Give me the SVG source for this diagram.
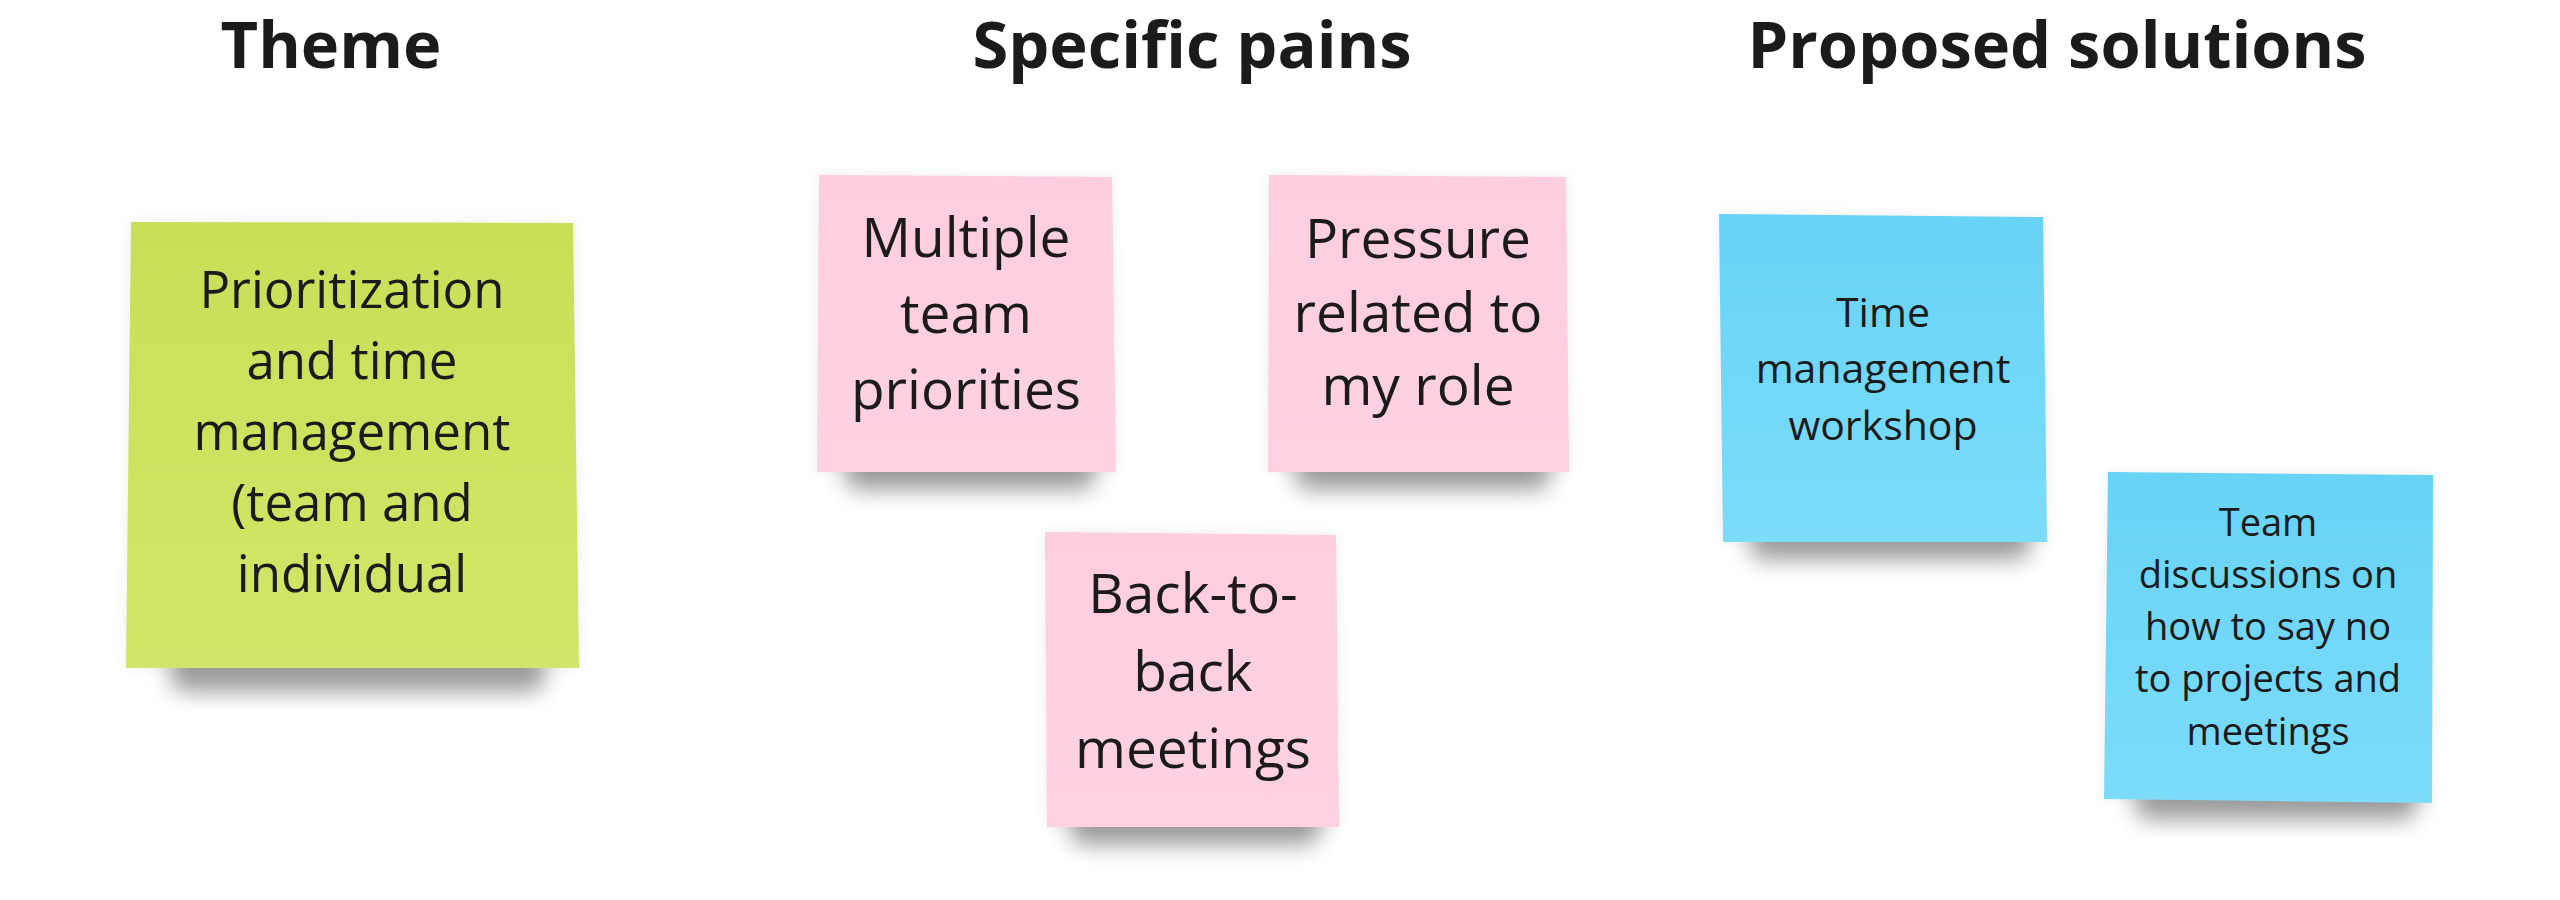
<svg xmlns="http://www.w3.org/2000/svg" width="2560" height="900" viewBox="0 0 2560 900">
<defs>
<style>
.hdr{font-family:"Open Sans","Liberation Sans",sans-serif;font-weight:700;font-size:65px;fill:#1b1b1b;text-anchor:middle}
.txt{font-family:"Open Sans","Liberation Sans",sans-serif;font-weight:400;fill:#1b1b1b;text-anchor:middle}
.shadow{fill:#000;opacity:0.38;filter:url(#blur)}
.soft{fill:#000;opacity:0.07;filter:url(#blurSoft)}
</style>
<filter id="blur" x="-30%" y="-100%" width="160%" height="300%"><feGaussianBlur stdDeviation="11"/></filter>
<filter id="blurSoft" x="-20%" y="-20%" width="140%" height="140%"><feGaussianBlur stdDeviation="7"/></filter>
<linearGradient id="gGreen" x1="0" y1="0" x2="0" y2="1"><stop offset="0" stop-color="#c9df57"/><stop offset="1" stop-color="#d3e568"/></linearGradient>
<linearGradient id="gPink" x1="0" y1="0" x2="0" y2="1"><stop offset="0" stop-color="#ffcde0"/><stop offset="1" stop-color="#ffd1e3"/></linearGradient>
<linearGradient id="gBlue" x1="0" y1="0" x2="0" y2="1"><stop offset="0" stop-color="#67d3f5"/><stop offset="1" stop-color="#7cdcf9"/></linearGradient>
</defs>
<rect width="2560" height="900" fill="#ffffff"/>

<g id="headers">
<text class="hdr" x="331" y="68">Theme</text>
<text class="hdr" x="1192" y="68">Specific pains</text>
<text class="hdr" x="2057" y="68">Proposed solutions</text>
</g>

<g id="connectors"></g>

<g id="note-theme">
<polygon class="soft" points="131,222 573,223 579,668 126,668"/>
<rect class="shadow" x="170" y="648" width="375" height="44" rx="16"/>
<polygon points="131,222 573,223 579,668 126,668" fill="url(#gGreen)"/>
<text class="txt" font-size="51" x="352"><tspan x="352" y="308">Prioritization</tspan><tspan x="352" y="379">and time</tspan><tspan x="352" y="450">management</tspan><tspan x="352" y="521">(team and</tspan><tspan x="352" y="592">individual</tspan></text>
</g>

<g id="note-pain-1">
<polygon class="soft" points="819,175 1112,177 1116,472 817,472"/>
<rect class="shadow" x="845" y="452" width="250" height="38" rx="14"/>
<polygon points="819,175 1112,177 1116,472 817,472" fill="url(#gPink)"/>
<text class="txt" font-size="55" x="966"><tspan x="966" y="257">Multiple</tspan><tspan x="966" y="333">team</tspan><tspan x="966" y="409">priorities</tspan></text>
</g>

<g id="note-pain-2">
<polygon class="soft" points="1269,175 1566,177 1569,472 1268,472"/>
<rect class="shadow" x="1295" y="452" width="255" height="38" rx="14"/>
<polygon points="1269,175 1566,177 1569,472 1268,472" fill="url(#gPink)"/>
<text class="txt" font-size="55" x="1418"><tspan x="1418" y="258">Pressure</tspan><tspan x="1418" y="332">related to</tspan><tspan x="1418" y="405">my role</tspan></text>
</g>

<g id="note-pain-3">
<polygon class="soft" points="1045,532 1336,535 1339,827 1047,827"/>
<rect class="shadow" x="1070" y="807" width="250" height="38" rx="14"/>
<polygon points="1045,532 1336,535 1339,827 1047,827" fill="url(#gPink)"/>
<text class="txt" font-size="55" x="1193"><tspan x="1193" y="613">Back-to-</tspan><tspan x="1193" y="691">back</tspan><tspan x="1193" y="768">meetings</tspan></text>
</g>

<g id="note-solution-1">
<polygon class="soft" points="1719,214 2043,217 2047,542 1723,542"/>
<rect class="shadow" x="1750" y="522" width="280" height="38" rx="14"/>
<polygon points="1719,214 2043,217 2047,542 1723,542" fill="url(#gBlue)"/>
<text class="txt" font-size="41" x="1883"><tspan x="1883" y="327">Time</tspan><tspan x="1883" y="383">management</tspan><tspan x="1883" y="440">workshop</tspan></text>
</g>

<g id="note-solution-2">
<polygon class="soft" points="2108,472 2433,475 2432,803 2104,799"/>
<rect class="shadow" x="2135" y="782" width="282" height="38" rx="14"/>
<polygon points="2108,472 2433,475 2432,803 2104,799" fill="url(#gBlue)"/>
<text class="txt" font-size="38" x="2268"><tspan x="2268" y="536">Team</tspan><tspan x="2268" y="588">discussions on</tspan><tspan x="2268" y="640">how to say no</tspan><tspan x="2268" y="692">to projects and</tspan><tspan x="2268" y="745">meetings</tspan></text>
</g>
</svg>
